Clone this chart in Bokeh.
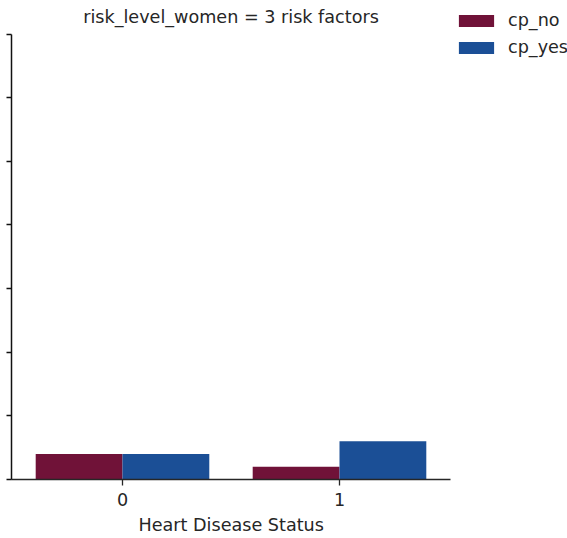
from bokeh.plotting import figure
from bokeh.models import ColumnDataSource, FixedTicker, Range1d, Legend, LegendItem, Label, Title
from bokeh.transform import dodge
from bokeh.embed import file_html
from bokeh.resources import INLINE

# data
status = [0, 1]
status_labels = ["0", "1"]
cp_no = [4, 2]
cp_yes = [4, 6]
y_ticks = [0, 10, 20, 30, 40, 50, 60, 70]
title_text = "risk_level_women = 3 risk factors"
x_label = "Heart Disease Status"
series_names = ["cp_no", "cp_yes"]
colors = ["#701238", "#1b4f96"]

src = ColumnDataSource(dict(x=status, cp_no=cp_no, cp_yes=cp_yes))

FONT = "DejaVu Sans"
FS = "17.6px"
TXT = "#262626"

# frame spans the canvas; axis lines are limited with bounds
p = figure(width=567, height=538, output_backend="svg", toolbar_location=None,
           x_range=Range1d(-0.5115, 2.0507), y_range=Range1d(0, 75.28),
           min_border_left=11, min_border_right=0,
           min_border_top=0, min_border_bottom=0)

r1 = p.vbar(x=dodge("x", -0.2), top="cp_no", width=0.4, source=src,
            fill_color=colors[0], line_color=None)
r2 = p.vbar(x=dodge("x", 0.2), top="cp_yes", width=0.4, source=src,
            fill_color=colors[1], line_color=None)

p.grid.visible = False
p.outline_line_color = None
p.background_fill_color = "white"
p.border_fill_color = "white"

title = Label(x=0.5, y=463, x_units="data", y_units="screen", text=title_text,
              text_font=FONT, text_font_size=FS, text_color=TXT,
              text_align="center", text_baseline="middle")
p.add_layout(title)

xa = p.xaxis[0]
xa.ticker = FixedTicker(ticks=status)
xa.bounds = (-0.51, 1.51)
xa.major_label_overrides = {s: l for s, l in zip(status, status_labels)}
xa.major_label_text_font = FONT
xa.major_label_text_font_size = FS
xa.major_label_text_color = TXT
xa.major_tick_out = 6
xa.major_tick_in = 0
xa.minor_tick_out = 0
xa.minor_tick_in = 0
xa.axis_line_color = TXT
xa.major_tick_line_color = TXT
xa.axis_line_width = 1.5
xa.major_tick_line_width = 1.3
xa.major_label_standoff = 7

# x-axis label, placed under the bars region
xlab = Title(text=x_label, align="left", offset=127, standoff=8,
             text_font=FONT, text_font_size=FS, text_font_style="normal",
             text_color=TXT)
p.add_layout(xlab, "below")

ya = p.yaxis[0]
ya.ticker = FixedTicker(ticks=y_ticks)
ya.bounds = (0, 70)
ya.major_label_text_font_size = "0px"
ya.major_label_standoff = 0
ya.major_tick_out = 5
ya.major_tick_in = 0
ya.minor_tick_out = 0
ya.minor_tick_in = 0
ya.axis_line_color = "#111111"
ya.major_tick_line_color = "#111111"
ya.axis_line_width = 1.5
ya.major_tick_line_width = 1.5

legend = Legend(items=[LegendItem(label=series_names[0], renderers=[r1]),
                       LegendItem(label=series_names[1], renderers=[r2])],
                location=(443, 422))
legend.glyph_width = 44
legend.glyph_height = 15
legend.label_standoff = 10
legend.label_text_font = FONT
legend.label_text_font_size = FS
legend.label_text_color = TXT
legend.label_height = 15
legend.spacing = 7
legend.padding = 0
legend.margin = 0
legend.border_line_color = None
legend.background_fill_alpha = 0
p.add_layout(legend, "center")

open("out.html", "w").write(file_html(p, INLINE))
